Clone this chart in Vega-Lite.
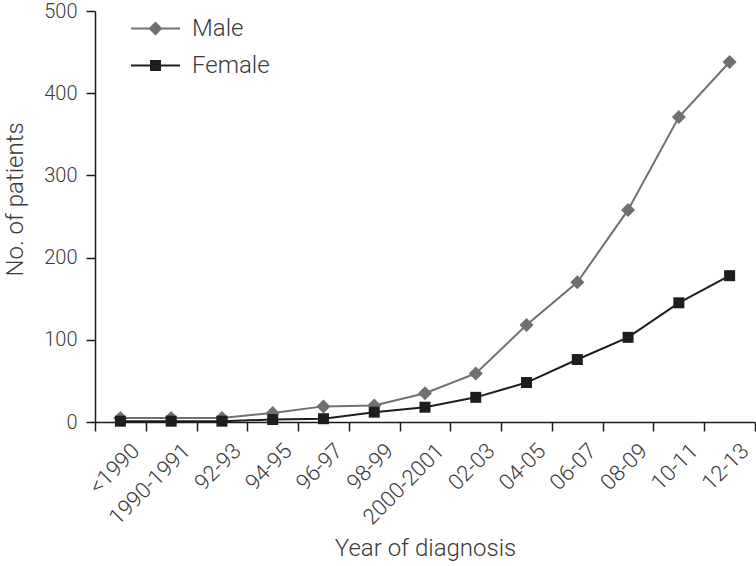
{
  "$schema": "https://vega.github.io/schema/vega-lite/v6.json",
  "autosize": "none",
  "width": 660,
  "height": 411,
  "padding": {"left": 95, "top": 11, "right": 1, "bottom": 144},
  "background": "white",
  "config": {
    "view": {"stroke": null},
    "font": "Roboto, sans-serif",
    "axis": {"grid": false, "domainColor": "#1a1a1a", "tickColor": "#1a1a1a", "domainWidth": 1.5, "tickWidth": 1.5, "labelColor": "#3a3a3a", "titleColor": "#3a3a3a", "labelFont": "Roboto", "titleFont": "Roboto", "labelFontWeight": 300, "titleFontWeight": 300},
    "legend": {
      "title": null, "orient": "none", "legendX": 36, "legendY": -7,
      "labelFontSize": 24, "labelColor": "#3a3a3a", "labelOffset": 12, "labelFont": "Roboto", "labelFontWeight": 300,
      "symbolSize": 2401, "symbolStrokeWidth": 0, "rowPadding": -12
    }
  },
  "data": {"values": [
    {"period": "<1990", "sex": "Male", "patients": 5},
    {"period": "1990-1991", "sex": "Male", "patients": 5},
    {"period": "92-93", "sex": "Male", "patients": 5},
    {"period": "94-95", "sex": "Male", "patients": 11},
    {"period": "96-97", "sex": "Male", "patients": 19},
    {"period": "98-99", "sex": "Male", "patients": 20},
    {"period": "2000-2001", "sex": "Male", "patients": 35},
    {"period": "02-03", "sex": "Male", "patients": 59},
    {"period": "04-05", "sex": "Male", "patients": 118},
    {"period": "06-07", "sex": "Male", "patients": 170},
    {"period": "08-09", "sex": "Male", "patients": 258},
    {"period": "10-11", "sex": "Male", "patients": 371},
    {"period": "12-13", "sex": "Male", "patients": 438},
    {"period": "<1990", "sex": "Female", "patients": 1},
    {"period": "1990-1991", "sex": "Female", "patients": 1},
    {"period": "92-93", "sex": "Female", "patients": 1},
    {"period": "94-95", "sex": "Female", "patients": 3},
    {"period": "96-97", "sex": "Female", "patients": 4},
    {"period": "98-99", "sex": "Female", "patients": 12},
    {"period": "2000-2001", "sex": "Female", "patients": 18},
    {"period": "02-03", "sex": "Female", "patients": 30},
    {"period": "04-05", "sex": "Female", "patients": 48},
    {"period": "06-07", "sex": "Female", "patients": 76},
    {"period": "08-09", "sex": "Female", "patients": 103},
    {"period": "10-11", "sex": "Female", "patients": 145},
    {"period": "12-13", "sex": "Female", "patients": 178}
  ]},
  "encoding": {
    "x": {
      "field": "period", "type": "nominal", "sort": null,
      "scale": {"type": "band", "paddingInner": 0, "paddingOuter": 0},
      "axis": {"title": "Year of diagnosis", "titleFontSize": 24, "titleY": 126, "titleBaseline": "middle", "labelAngle": -45, "labelAlign": "right", "labelBaseline": "middle", "labelFontSize": 22, "labelOffset": 15, "labelPadding": 16, "tickSize": 9, "tickBand": "extent"}
    },
    "y": {
      "field": "patients", "type": "quantitative",
      "scale": {"domain": [0, 500], "nice": false},
      "axis": {"title": "No. of patients", "titleFontSize": 24, "titleX": -80, "titleY": 188, "titleBaseline": "middle", "labelFontSize": 20, "tickSize": 9, "labelPadding": 9, "values": [0, 100, 200, 300, 400, 500]}
    }
  },
  "resolve": {"scale": {"shape": "independent"}, "legend": {"color": "independent", "shape": "independent"}},
  "layer": [
    {
      "mark": {"type": "line", "strokeWidth": 2},
      "encoding": {
        "color": {"field": "sex", "type": "nominal", "scale": {"domain": ["Male", "Female"], "range": ["#707070", "#1e1e1e"]}, "legend": null}
      }
    },
    {
      "mark": {"type": "point", "filled": true, "opacity": 1},
      "encoding": {
        "color": {"field": "sex", "type": "nominal", "scale": {"domain": ["Male", "Female"], "range": ["#707070", "#1e1e1e"]}, "legend": null},
        "shape": {"field": "sex", "type": "nominal", "scale": {"domain": ["Male", "Female"], "range": ["diamond", "square"]}, "legend": null},
        "size": {"condition": {"test": "datum.sex === 'Male'", "value": 196}, "value": 121}
      }
    },
    {
      "transform": [{"filter": "false"}],
      "mark": {"type": "point", "filled": true, "opacity": 1},
      "encoding": {
        "color": {"field": "sex", "type": "nominal", "scale": {"domain": ["Male", "Female"], "range": ["#707070", "#1e1e1e"]}},
        "shape": {"field": "sex", "type": "nominal", "scale": {"domain": ["Male", "Female"], "range": ["M-1,-0.041H1V0.041H-1ZM0,-0.286L0.286,0L0,0.286L-0.286,0Z", "M-1,-0.041H1V0.041H-1ZM-0.224,-0.224H0.224V0.224H-0.224Z"]}}
      }
    }
  ]
}
